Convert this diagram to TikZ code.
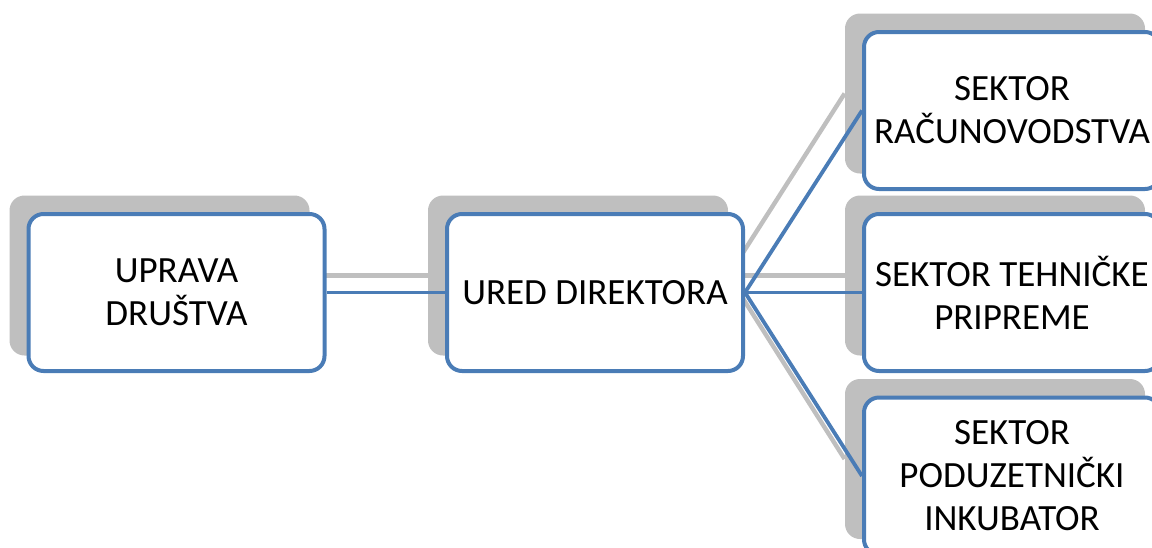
\documentclass[tikz,border=0pt]{standalone}
\usepackage{fontspec}
\setmainfont{Carlito}
\usetikzlibrary{backgrounds}
\definecolor{okvir}{RGB}{74,124,182}
\definecolor{sivo}{RGB}{191,191,191}
\tikzset{
  kutija/.style={draw=okvir,line width=2pt,fill=white,rounded corners=7.5pt,
    minimum width=148pt,minimum height=78.5pt,inner sep=0pt,align=center,
    font=\fontsize{18.5}{21.5}\selectfont},
  sjena/.style={fill=sivo,rounded corners=7.5pt,minimum width=150pt,
    minimum height=80pt,inner sep=0pt},
  veza/.style={draw=okvir,line width=1.9pt},
  sveza/.style={draw=sivo,line width=2.2pt}
}
\begin{document}
\begin{tikzpicture}[x=0.5pt,y=-0.5pt]
\useasboundingbox (0,0) rectangle (1152,547); % okvir slike
% Kutije
\node[kutija] (uprava) at (176.5,292.5) {UPRAVA\\DRUŠTVA};
\node[kutija] (ured) at (595,292.5) {URED DIREKTORA};
\node[kutija] (racun) at (1012,110.5) {SEKTOR\\RAČUNOVODSTVA};
\node[kutija] (tehnika) at (1012,292.5) {SEKTOR TEHNIČKE\\PRIPREME};
\node[kutija] (inkubator) at (1012,476) {SEKTOR\\PODUZETNIČKI\\INKUBATOR};
\begin{scope}[on background layer]
% Sjene kutija
\foreach \k in {uprava,ured,racun,tehnika,inkubator}
  \node[sjena] (s-\k) at ([xshift=-8.5pt,yshift=8.5pt]\k.center) {};
% Sive veze (sjene)
\draw[sveza] (s-uprava.east) -- (s-ured.west);
\foreach \k in {racun,tehnika,inkubator}
  \draw[sveza] (s-ured.east) -- (s-\k.west);
% Plave veze
\draw[veza] (uprava.east) -- (ured.west);
\foreach \k in {racun,tehnika,inkubator}
  \draw[veza] (ured.east) -- (\k.west);
\end{scope}
\end{tikzpicture}
\end{document}
